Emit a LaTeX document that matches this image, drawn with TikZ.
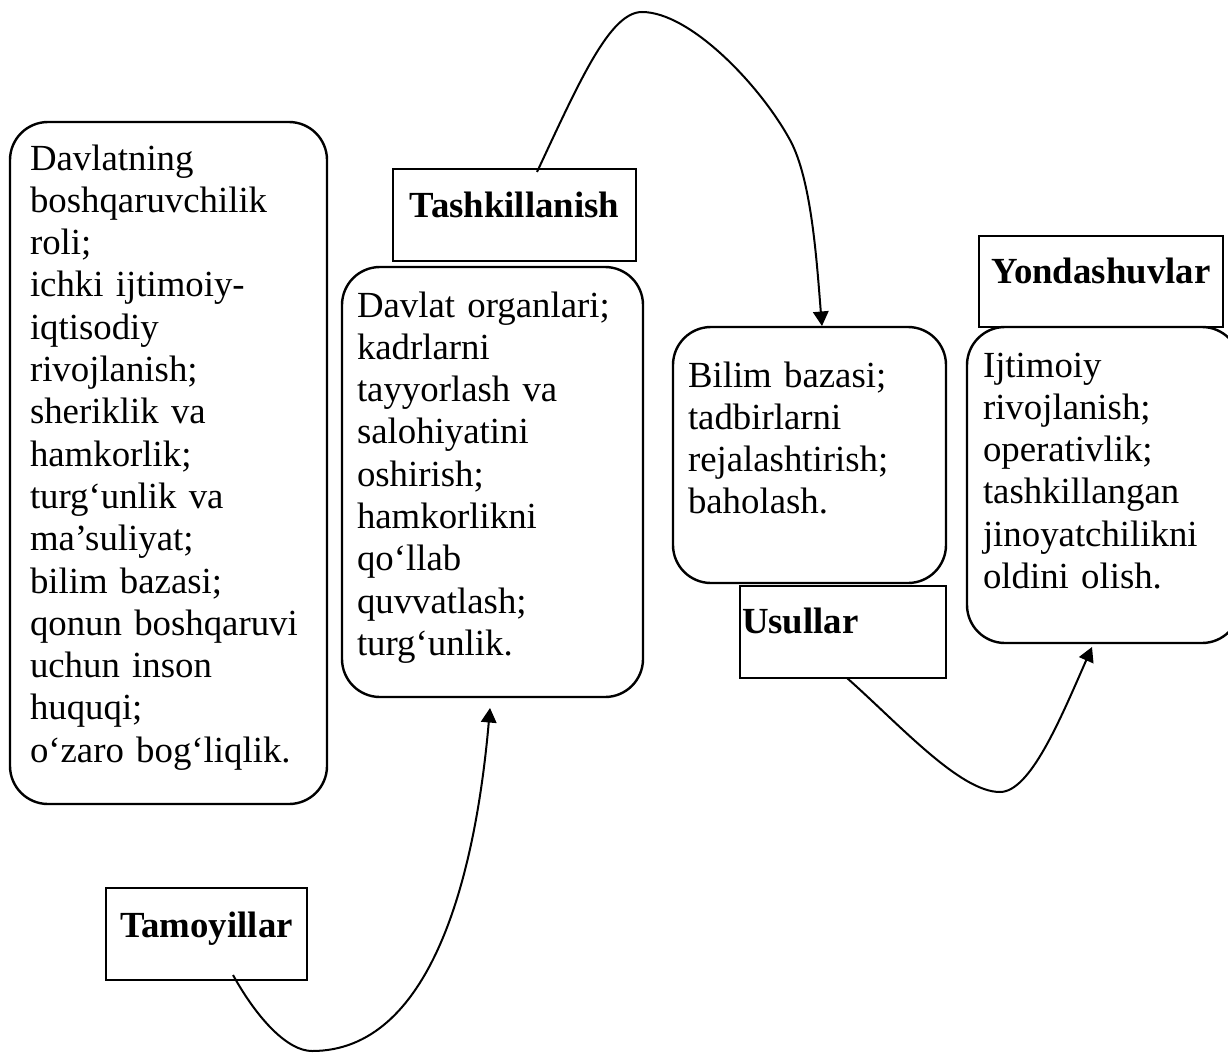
\documentclass[tikz,border=0pt]{standalone}
\usepackage{fontspec}
\setmainfont{Liberation Serif}
\usetikzlibrary{arrows.meta}

\begin{document}
\begin{tikzpicture}[x=1pt,y=-1pt,
  every node/.style={inner sep=0pt, outer sep=0pt},
  bodytext/.style={font=\fontsize{36.8}{42.3}\selectfont},
  roundbox/.style={draw, line width=2.4pt, rounded corners=38pt, align=left,
    anchor=north west, bodytext},
  tag/.style={draw, line width=2.4pt, anchor=north west,
    font=\fontsize{36.8}{42.3}\selectfont\bfseries},
  curve/.style={line width=2pt},
  link/.style={curve, -{Triangle[length=14.5pt,width=15.5pt]}}
]
\path[clip] (0,0) rectangle (1228,1052);

% content boxes
\node[roundbox, text width=277pt, inner xsep=20pt, text height=48pt, text depth=634pt]
  (b1) at (10,122) {Davlatning\\ boshqaruvchilik\\ roli;\\ ichki ijtimoiy-\\ iqtisodiy\\
  rivojlanish;\\ sheriklik va\\ hamkorlik;\\ turg‘unlik va\\ ma’suliyat;\\ bilim bazasi;\\
  qonun boshqaruvi\\ uchun inson\\ huquqi;\\ o‘zaro bog‘liqlik.};

\node[roundbox, text width=271pt, inner xsep=15pt, text height=50pt, text depth=380pt]
  (b2) at (342,267) {Davlat organlari;\\ kadrlarni\\ tayyorlash va\\ salohiyatini\\
  oshirish;\\ hamkorlikni\\ qo‘llab\\ quvvatlash;\\ turg‘unlik.};

\node[roundbox, text width=243pt, inner xsep=15pt, text height=60pt, text depth=196pt]
  (b3) at (673,327) {Bilim bazasi;\\ tadbirlarni\\ rejalashtirish;\\ baholash.};

\node[roundbox, text width=241pt, inner xsep=16pt, text height=50pt, text depth=266pt]
  (b4) at (967,327) {Ijtimoiy\\ rivojlanish;\\ operativlik;\\ tashkillangan\\
  jinoyatchilikni\\ oldini olish.};

% heading boxes
\node[tag, minimum width=243pt, text height=48pt, text depth=44pt]
  (tash) at (393,169) {Tashkillanish};
\node[tag, minimum width=244pt, text height=47pt, text depth=44pt]
  (yond) at (979,236) {Yondashuvlar};
\node[tag, text width=202pt, inner xsep=2pt, align=left, text height=47pt, text depth=45pt]
  (usl) at (740,586) {Usullar};
\node[tag, minimum width=201pt, text height=49pt, text depth=43pt]
  (tam) at (106,888) {Tamoyillar};

% connectors
\draw[link] ([xshift=26.5pt,yshift=5pt]tam.south)
  .. controls (258,1020) and (288,1051) .. (312,1051)
  .. controls (430,1051) and (475,880) .. ([xshift=-2.5pt,yshift=-11pt]b2.south);

\draw[link] ([xshift=22.5pt,yshift=-3pt]tash.north)
  .. controls (580,80) and (610,12) .. (642,12)
  .. controls (690,12) and (760,85) .. (790,140)
  .. controls (812,180) and (817,266) .. ([xshift=12.5pt,yshift=1pt]b3.north);

\draw[link] ([xshift=4pt]usl.south)
  .. controls (900,725) and (960,792) .. (1000,792)
  .. controls (1030,792) and (1060,720) .. ([xshift=-11.5pt,yshift=-4pt]b4.south);
\end{tikzpicture}
\end{document}
